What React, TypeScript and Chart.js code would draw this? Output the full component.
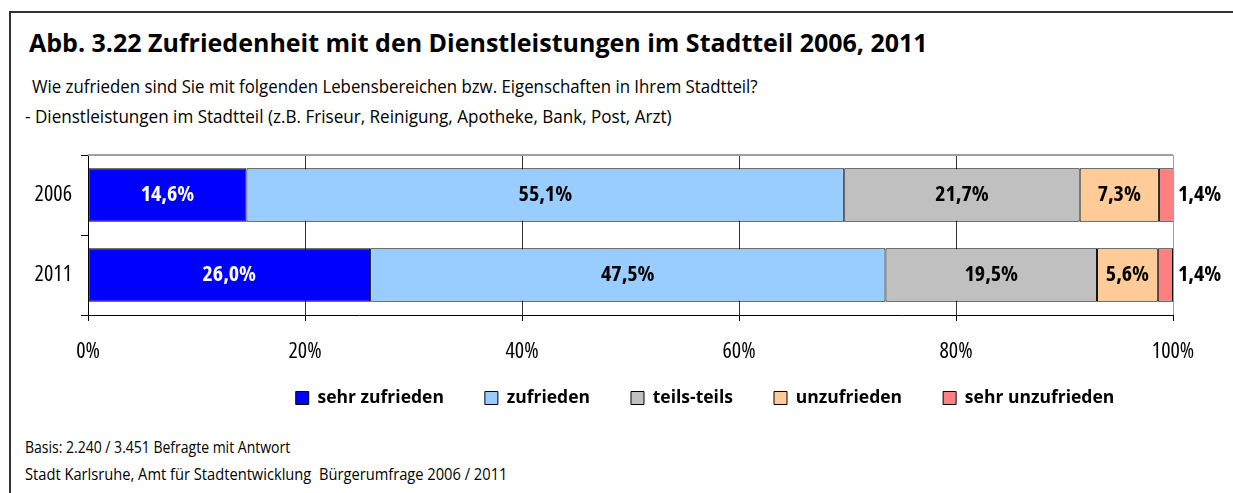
import React, { useEffect, useRef } from 'react';
import { Chart, registerables } from 'chart.js';

Chart.register(...registerables);

// ---- data ----
const categories = ['2006', '2011'];
const seriesNames = ['sehr zufrieden', 'zufrieden', 'teils-teils', 'unzufrieden', 'sehr unzufrieden'];
const sehrZufrieden = [14.6, 26.0];
const zufrieden = [55.1, 47.5];
const teilsTeils = [21.7, 19.5];
const unzufrieden = [7.3, 5.6];
const sehrUnzufrieden = [1.4, 1.4];
const seriesColors = ['#0000FF', '#99CCFF', '#C0C0C0', '#FFCC99', '#FF8080'];
const xTickValues = [0, 20, 40, 60, 80, 100];

const titleText = 'Abb. 3.22 Zufriedenheit mit den Dienstleistungen im Stadtteil 2006, 2011';
const subtitle1 = 'Wie zufrieden sind Sie mit folgenden Lebensbereichen bzw. Eigenschaften in Ihrem Stadtteil?';
const subtitle2 = '- Dienstleistungen im Stadtteil (z.B. Friseur, Reinigung, Apotheke, Bank, Post, Arzt)';
const footer1 = 'Basis: 2.240 / 3.451 Befragte mit Antwort';
const footer2 = 'Stadt Karlsruhe, Amt für Stadtentwicklung  Bürgerumfrage 2006 / 2011';

const FONT = "'Open Sans', sans-serif";
const STRETCH = 'condensed';

const fmt = (v: number) => v.toFixed(1).replace('.', ',') + '%';

const valueLabelPlugin = {
  id: 'valueLabels',
  afterDatasetsDraw(chart: any) {
    const ctx = chart.ctx;
    ctx.save();
    ctx.font = `normal bold ${STRETCH} 22px ${FONT}`;
    ctx.textBaseline = 'middle';
    const last = chart.data.datasets.length - 1;
    chart.data.datasets.forEach((ds: any, di: number) => {
      const meta = chart.getDatasetMeta(di);
      meta.data.forEach((bar: any, i: number) => {
        const text = fmt(ds.data[i]);
        if (di === last) {
          ctx.fillStyle = '#000';
          ctx.textAlign = 'left';
          ctx.fillText(text, chart.chartArea.right + 5, bar.y);
        } else {
          ctx.fillStyle = di === 0 ? '#fff' : '#000';
          ctx.textAlign = 'center';
          ctx.fillText(text, (bar.x + bar.base) / 2, bar.y);
        }
      });
    });
    ctx.restore();
  },
};

const frameLinePlugin = {
  id: 'frameLine',
  beforeDatasetsDraw(chart: any) {
    const { ctx, chartArea } = chart;
    ctx.save();
    ctx.strokeStyle = '#a0a0a0';
    ctx.lineWidth = 2;
    ctx.beginPath();
    ctx.moveTo(chartArea.left, chartArea.top);
    ctx.lineTo(chartArea.right, chartArea.top);
    ctx.stroke();
    ctx.restore();
  },
};

// places the legend row where the reference has it (centre x 705, centre y 258 in canvas coords)
const legendPlacePlugin = {
  id: 'legendPlace',
  afterLayout(chart: any) {
    const lg = chart.legend;
    if (!lg) return;
    const dx = 705 - (lg.left + lg.right) / 2;
    lg.left += dx;
    lg.right += dx;
    const pad = lg.options.labels.padding;
    const fs = lg.options.labels.font.size;
    const desiredTop = 258 - pad - fs / 2;
    const dy = desiredTop - lg.top;
    lg.top += dy;
    lg.bottom += dy;
  },
};

export default function App() {
  const canvasRef = useRef<HTMLCanvasElement>(null);

  useEffect(() => {
    const canvas = canvasRef.current;
    if (!canvas) return;
    const datasetsValues = [sehrZufrieden, zufrieden, teilsTeils, unzufrieden, sehrUnzufrieden];
    const chart = new Chart(canvas, {
      type: 'bar',
      data: {
        labels: categories,
        datasets: datasetsValues.map((vals, i) => ({
          label: seriesNames[i],
          data: vals,
          backgroundColor: seriesColors[i],
          borderColor: '#000',
          borderWidth: 1,
          borderSkipped: false,
          barPercentage: 0.667,
          categoryPercentage: 1,
        })),
      },
      options: {
        indexAxis: 'y',
        responsive: false,
        animation: false,
        devicePixelRatio: 1,
        layout: { padding: { top: 15, right: 60, left: 0, bottom: 0 } },
        scales: {
          x: {
            stacked: true,
            min: 0,
            max: 100,
            afterBuildTicks: (scale: any) => {
              scale.ticks = xTickValues.map((v) => ({ value: v }));
            },
            afterFit: (scale: any) => {
              scale.height = 49.5;
            },
            ticks: {
              callback: (v: any) => v + '%',
              font: { family: FONT, size: 22, weight: STRETCH },
              color: '#000',
              padding: 18,
              maxRotation: 0,
            },
            grid: {
              color: (c: any) => (c.tick && c.tick.value === 100 ? '#a0a0a0' : '#333'),
              tickColor: '#000',
              tickLength: 6,
              lineWidth: 1,
            },
            border: { display: true, color: '#000', width: 1 },
          },
          y: {
            stacked: true,
            afterFit: (scale: any) => {
              scale.width = 88;
              scale.paddingTop = 0;
              scale.paddingBottom = 0;
            },
            ticks: {
              font: { family: FONT, size: 22, weight: STRETCH },
              color: '#000',
              padding: 9,
            },
            grid: {
              offset: true,
              drawOnChartArea: false,
              drawTicks: true,
              tickLength: 7,
              tickColor: '#000',
            },
            border: { display: true, color: '#000', width: 1 },
          },
        },
        plugins: {
          title: { display: false },
          tooltip: { enabled: false },
          legend: {
            display: true,
            position: 'bottom',
            labels: {
              boxWidth: 13,
              boxHeight: 13,
              padding: 41,
              color: '#000',
              font: { family: FONT, size: 17.5, weight: 'bold' },
            },
          },
        },
      },
      plugins: [frameLinePlugin, valueLabelPlugin, legendPlacePlugin],
    } as any);
    return () => chart.destroy();
  }, []);

  const textBase: React.CSSProperties = {
    position: 'absolute',
    fontFamily: FONT,
    color: '#000',
    whiteSpace: 'pre',
    lineHeight: 1,
    margin: 0,
    transformOrigin: '0 0',
  };

  return (
    <div style={{ position: 'absolute', left: 0, top: 0, width: 1233, height: 493, background: '#fff', overflow: 'hidden' }}>
      <div style={{ position: 'absolute', left: 9, top: 11, width: 1300, height: 600, borderLeft: '2px solid #333', borderTop: '2px solid #333' }} />
      <div style={{ ...textBase, left: 29, top: 29.5, fontSize: 25, fontWeight: 'bold' }}>{titleText}</div>
      <div style={{ ...textBase, left: 32, top: 76.5, fontSize: 19, transform: 'scaleX(0.885)' }}>{subtitle1}</div>
      <div style={{ ...textBase, left: 25, top: 106.5, fontSize: 19, transform: 'scaleX(0.899)' }}>{subtitle2}</div>
      <canvas ref={canvasRef} width={1233} height={293} style={{ position: 'absolute', left: 0, top: 140, width: 1233, height: 293 }} />
      <div style={{ ...textBase, left: 25, top: 438.5, fontSize: 16, transform: 'scaleX(0.875)' }}>{footer1}</div>
      <div style={{ ...textBase, left: 25, top: 466, fontSize: 16, transform: 'scaleX(0.917)' }}>{footer2}</div>
    </div>
  );
}
